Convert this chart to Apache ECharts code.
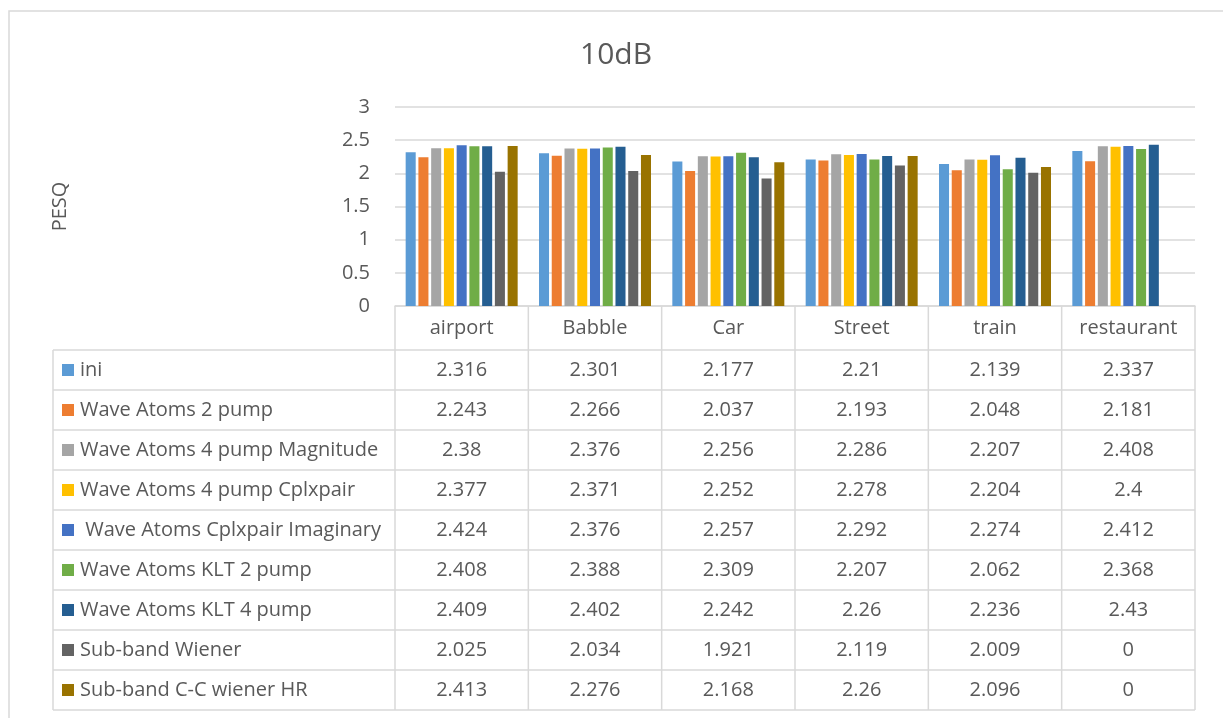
<!DOCTYPE html>
<html>
<head>
<meta charset="utf-8">
<title>10dB PESQ</title>
<script src="https://cdn.jsdelivr.net/npm/echarts@6/dist/echarts.min.js"></script>
<style>
  html, body { margin: 0; padding: 0; background: #ffffff; }
  #chart { width: 1223px; height: 718px; }
</style>
</head>
<body>
<div id="chart"></div>
<script>
// Noise types (columns of the data table)
const categories = ['airport', 'Babble', 'Car', 'Street', 'train', 'restaurant'];

// PESQ scores per method
const ini                        = [2.316, 2.301, 2.177, 2.21,  2.139, 2.337];
const waveAtoms2Pump             = [2.243, 2.266, 2.037, 2.193, 2.048, 2.181];
const waveAtoms4PumpMagnitude    = [2.38,  2.376, 2.256, 2.286, 2.207, 2.408];
const waveAtoms4PumpCplxpair     = [2.377, 2.371, 2.252, 2.278, 2.204, 2.4];
const waveAtomsCplxpairImaginary = [2.424, 2.376, 2.257, 2.292, 2.274, 2.412];
const waveAtomsKlt2Pump          = [2.408, 2.388, 2.309, 2.207, 2.062, 2.368];
const waveAtomsKlt4Pump          = [2.409, 2.402, 2.242, 2.26,  2.236, 2.43];
const subBandWiener              = [2.025, 2.034, 1.921, 2.119, 2.009, 0];
const subBandCcWienerHr          = [2.413, 2.276, 2.168, 2.26,  2.096, 0];

const seriesNames = [
  'ini',
  'Wave Atoms 2 pump',
  'Wave Atoms 4 pump Magnitude',
  'Wave Atoms 4 pump Cplxpair',
  ' Wave Atoms Cplxpair Imaginary',
  'Wave Atoms KLT 2 pump',
  'Wave Atoms KLT 4 pump',
  'Sub-band Wiener',
  'Sub-band C-C wiener HR'
];
const seriesValues = [
  ini, waveAtoms2Pump, waveAtoms4PumpMagnitude, waveAtoms4PumpCplxpair,
  waveAtomsCplxpairImaginary, waveAtomsKlt2Pump, waveAtomsKlt4Pump,
  subBandWiener, subBandCcWienerHr
];
const seriesColors = [
  '#5B9BD5', '#ED7D31', '#A5A5A5', '#FFC000', '#4472C4',
  '#70AD47', '#255E91', '#636363', '#997300'
];

// Value axis range
const yMin = 0, yMax = 3, yStep = 0.5;

// Layout
const FONT = '"Open Sans", "DejaVu Sans", sans-serif';
const FS = 20;
const TEXT = '#595959';
const LINE = '#d9d9d9';
const GRID = { left: 395, right: 28, top: 107, bottom: 412 };
const HEADER_H = 44;   // height of the category-name row under the axis
const ROW_H = 40;      // height of each data-table row
const TABLE_LEFT = 53; // left edge of the legend column

const chart = echarts.init(document.getElementById('chart'), null, { renderer: 'canvas' });

const option = {
  backgroundColor: '#ffffff',
  animation: false,
  textStyle: { fontFamily: FONT, color: TEXT },
  title: {
    text: '10dB',
    left: 611,
    top: 35,
    textAlign: 'center',
    textStyle: { fontFamily: FONT, fontSize: 30, fontWeight: 'normal', color: TEXT }
  },
  legend: {
    orient: 'vertical',
    left: 62,
    top: 718 - GRID.bottom + HEADER_H,
    padding: 0,
    itemGap: 0,
    itemWidth: 12,
    itemHeight: 12,
    icon: 'rect',
    selectedMode: false,
    textStyle: { fontFamily: FONT, fontSize: FS, color: TEXT, lineHeight: ROW_H, padding: [0, 0, 0, 1] },
    data: seriesNames
  },
  grid: { left: GRID.left, right: GRID.right, top: GRID.top, bottom: GRID.bottom, containLabel: false },
  xAxis: {
    type: 'category',
    data: categories,
    axisLine: { show: true, lineStyle: { color: LINE, width: 1.5 } },
    axisTick: { show: false },
    axisLabel: { fontFamily: FONT, fontSize: FS, color: TEXT, margin: 12 },
    splitLine: { show: false }
  },
  yAxis: {
    type: 'value',
    min: yMin,
    max: yMax,
    interval: yStep,
    name: 'PESQ',
    nameLocation: 'middle',
    nameRotate: 90,
    nameGap: 325,
    nameTextStyle: { fontFamily: FONT, fontSize: FS, color: TEXT },
    axisLine: { show: false },
    axisTick: { show: false },
    axisLabel: { fontFamily: FONT, fontSize: FS, color: TEXT, margin: 25 },
    splitLine: { show: true, lineStyle: { color: LINE, width: 1.5 } }
  },
  series: seriesNames.map((name, i) => ({
    name: name,
    type: 'bar',
    data: seriesValues[i],
    barGap: '27%',
    barCategoryGap: '16%',
    itemStyle: { color: seriesColors[i] },
    emphasis: { disabled: true }
  }))
};

chart.setOption(option);

// Data table drawn under the plot, aligned to the category axis
function buildTable() {
  const axisY = chart.convertToPixel({ gridIndex: 0 }, [0, 0])[1];
  const centers = categories.map((c, i) => chart.convertToPixel({ gridIndex: 0 }, [i, 0])[0]);
  const band = centers.length > 1 ? centers[1] - centers[0] : 100;
  const colLeft = centers[0] - band / 2;
  const colRight = centers[centers.length - 1] + band / 2;
  const rowsTop = axisY + HEADER_H;
  const tableBottom = rowsTop + ROW_H * seriesNames.length;

  const elements = [];
  const lineStyle = { stroke: LINE, lineWidth: 1.5 };

  // outer chart border
  elements.push({
    type: 'rect', silent: true, z: 0,
    shape: { x: 9, y: 11, width: 1240, height: 800 },
    style: { fill: null, stroke: LINE, lineWidth: 1.5 }
  });

  // vertical column borders (from the axis down)
  for (let k = 0; k <= categories.length; k++) {
    const x = colLeft + band * k;
    elements.push({
      type: 'line', silent: true,
      shape: { x1: x, y1: axisY, x2: x, y2: tableBottom },
      style: lineStyle
    });
  }
  // legend column left border
  elements.push({
    type: 'line', silent: true,
    shape: { x1: TABLE_LEFT, y1: rowsTop, x2: TABLE_LEFT, y2: tableBottom },
    style: lineStyle
  });
  // horizontal row borders
  for (let r = 0; r <= seriesNames.length; r++) {
    const y = rowsTop + ROW_H * r;
    elements.push({
      type: 'line', silent: true,
      shape: { x1: TABLE_LEFT, y1: y, x2: colRight, y2: y },
      style: lineStyle
    });
  }
  // cell values
  seriesValues.forEach((vals, r) => {
    vals.forEach((v, c) => {
      elements.push({
        type: 'text', silent: true,
        x: centers[c],
        y: rowsTop + ROW_H * r + ROW_H / 2,
        style: {
          text: String(v),
          fill: TEXT,
          font: FS + 'px ' + FONT,
          align: 'center',
          verticalAlign: 'middle'
        }
      });
    });
  });

  chart.setOption({ graphic: { elements: elements } });
}

buildTable();
</script>
</body>
</html>
